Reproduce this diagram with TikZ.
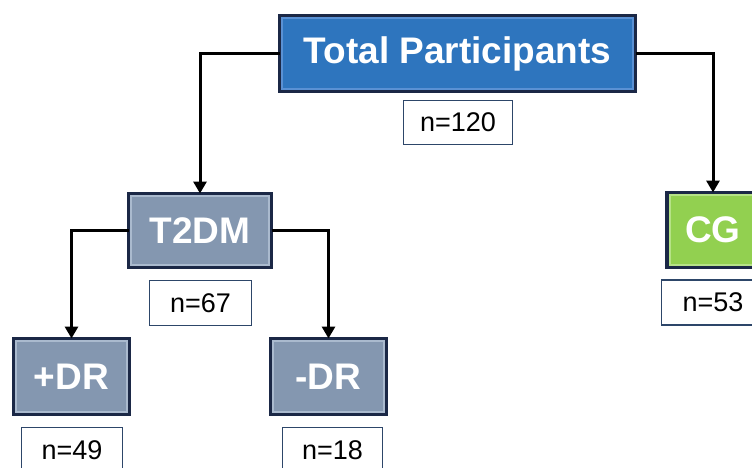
\documentclass[tikz,border=0pt]{standalone}
\usepackage{fontspec}
\setmainfont{Liberation Sans}
\usepackage{tikz}
\usetikzlibrary{arrows.meta, positioning}

\definecolor{navyedge}{RGB}{27,40,70}
\definecolor{totalfill}{RGB}{46,117,190}
\definecolor{totalband}{RGB}{90,145,212}
\definecolor{groupfill}{RGB}{132,151,176}
\definecolor{groupband}{RGB}{170,186,206}
\definecolor{cgfill}{RGB}{146,208,80}
\definecolor{cgband}{RGB}{182,226,135}
\definecolor{countedge}{RGB}{45,70,105}

\tikzset{
  bevel/.style={path picture={
      \draw[#1, line width=2pt]
        ([shift={(2.6pt,2.6pt)}]path picture bounding box.south west)
        rectangle ([shift={(-2.6pt,-2.6pt)}]path picture bounding box.north east);}},
  groupbox/.style={draw=navyedge, line width=3.2pt, inner sep=0pt, outer sep=0pt,
    text=white, font=\fontsize{37}{40}\selectfont\bfseries},
  countbox/.style={draw=countedge, line width=1.3pt, fill=white, inner sep=0pt,
    outer sep=0pt, font=\fontsize{27}{30}\selectfont},
  arrow/.style={draw=black, line width=3pt, -{Triangle[length=12pt, width=13pt]}}
}

\begin{document}
\begin{tikzpicture}[x=1pt, y=-1pt]
  \useasboundingbox (0,0) rectangle (752,468);
  \clip (0,0) rectangle (752,468);

  % group boxes
  \node[groupbox, fill=totalfill, bevel=totalband, minimum width=356pt, minimum height=76pt]
    (total) at (457.5,53.5) {Total Participants};
  \node[groupbox, fill=groupfill, bevel=groupband, minimum width=143pt, minimum height=74pt]
    (t2dm) at (200,230.5) {T2DM};
  \node[groupbox, fill=cgfill, bevel=cgband, minimum width=92pt, minimum height=75pt]
    (cg) at (713,230) {CG};
  \node[groupbox, fill=groupfill, bevel=groupband, minimum width=116pt, minimum height=76pt]
    (plusdr) at (71.5,376.5) {+DR};
  \node[groupbox, fill=groupfill, bevel=groupband, minimum width=116pt, minimum height=76pt]
    (minusdr) at (328.5,376.5) {-DR};

  % counts
  \node[countbox, minimum width=109pt, minimum height=44pt] (n120) at (458,122.5) {n=120};
  \node[countbox, minimum width=102pt, minimum height=45pt] (n67) at (200.5,303) {n=67};
  \node[countbox, minimum width=103pt, minimum height=45pt] (n53) at (713,302.5) {n=53};
  \node[countbox, minimum width=101pt, minimum height=45pt] (n49) at (72,450) {n=49};
  \node[countbox, minimum width=100pt, minimum height=45pt] (n18) at (332.5,450) {n=18};

  % connectors
  \draw[arrow] (total.west) -| (t2dm.north);
  \draw[arrow] (total.east) -| (cg.north);
  \draw[arrow] (t2dm.west) -| (plusdr.north);
  \draw[arrow] (t2dm.east) -| (minusdr.north);
\end{tikzpicture}
\end{document}
